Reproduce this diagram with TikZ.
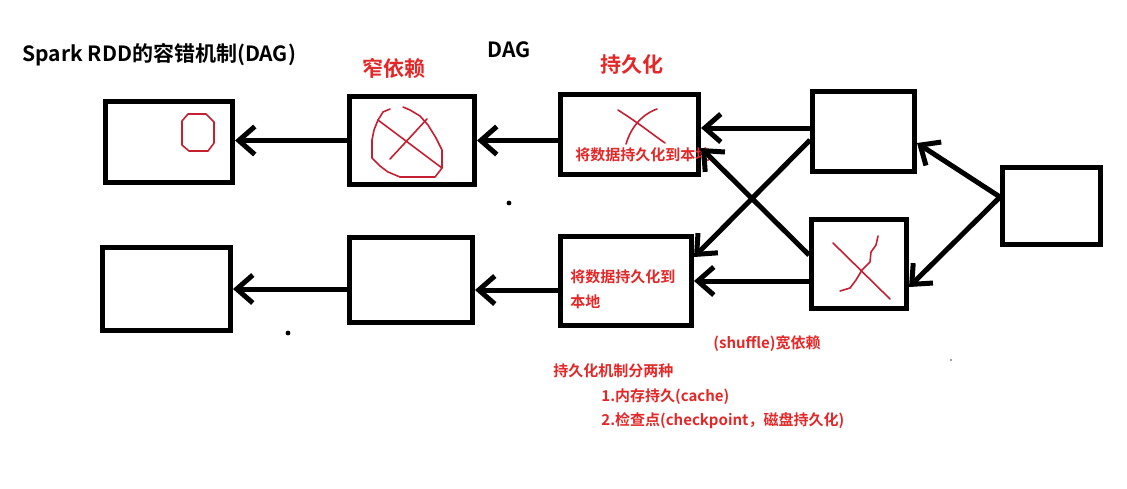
\documentclass[tikz,border=0pt]{standalone}
\usepackage{fontspec}
\newfontfamily\cjk{Noto Sans CJK SC}[BoldFont={Noto Sans CJK SC Bold}]
\usepackage{xcolor}
\usetikzlibrary{arrows.meta, positioning}
\definecolor{inkred}{RGB}{226,40,40}
\definecolor{penred}{RGB}{196,32,50}

\begin{document}
\begin{tikzpicture}[
  x=0.5pt, y=-0.5pt,
  box/.style={draw, line width=2.5pt, inner sep=0pt},
  arrow/.style={line width=2.5pt, -{Straight Barb[length=8pt, width=14pt]}},
  title/.style={font=\cjk\bfseries\fontsize{10.5pt}{12pt}\selectfont, anchor=west, inner sep=0pt},
  big/.style={font=\cjk\bfseries\fontsize{10.5pt}{12pt}\selectfont, text=inkred, inner sep=0pt},
  note/.style={font=\cjk\bfseries\fontsize{7.5pt}{9pt}\selectfont, text=inkred, anchor=west, inner sep=0pt},
  pen/.style={penred, line width=0.8pt, line join=round, line cap=round}
]
\useasboundingbox (0,0) rectangle (1127,488);

% Nodes
\node[box, minimum width=63.5pt, minimum height=40.5pt] (n1) at (169,142) {};
\node[box, minimum width=62.5pt, minimum height=44pt] (n2) at (412,140.5) {};
\node[box, minimum width=69pt, minimum height=40pt] (n3) at (629.5,134.5) {};
\node[box, minimum width=51pt, minimum height=40pt] (n4) at (863.5,131.5) {};
\node[box, minimum width=64pt, minimum height=41.5pt] (n5) at (166.5,289) {};
\node[box, minimum width=61.5pt, minimum height=42.5pt] (n6) at (411,280) {};
\node[box, minimum width=65.5pt, minimum height=44.5pt] (n7) at (626,281) {};
\node[box, minimum width=47.5pt, minimum height=44.5pt] (n8) at (859,264) {};
\node[box, minimum width=49pt, minimum height=38.5pt] (n9) at (1051.5,206) {};

% Labels
\node[title] (t1) at (22,55) {Spark RDD的容错机制(DAG)};
\node[title, anchor=center] (t2) at (509,50) {DAG};
\node[big] (t3) at (394,68) {窄依赖};
\node[big] (t4) at (632,64) {持久化};
\node[note] (t5) at (575,155) {将数据持久化到本地};
\node[note] (t6) at (570,277) {将数据持久化到};
\node[note] (t7) at (570,302) {本地};
\node[note] (t8) at (713,344) {(shuffle)宽依赖};
\node[note] (t9) at (553,371) {持久化机制分两种};
\node[note] (t10) at (601,397) {1.内存持久(cache)};
\node[note] (t11) at (601,421) {2.检查点(checkpoint，磁盘持久化)};

% Pointers
\draw[arrow] (n2.west) -- (n2.west -| n1.east);
\draw[arrow] (n2.east -| n3.west) -- (n2.east);
\draw[arrow] ([yshift=1.75pt]n4.west) -- ([yshift=1.75pt]n4.west -| n3.east);
\draw[arrow] ([yshift=-4.25pt]n4.west) -- ([yshift=12pt]n7.east);
\draw[arrow] ([yshift=4.5pt]n8.west) -- ([yshift=-6.75pt]n3.east);
\draw[arrow] (n7.east -| n8.west) -- (n7.east);
\draw[arrow] ([yshift=-4.5pt]n7.west) -- ([yshift=-4.5pt]n7.west -| n6.east);
\draw[arrow] (n6.west |- n5.east) -- (n5.east);
\draw[arrow] ([yshift=4.5pt]n9.west) -- ([yshift=-5.75pt]n4.east);
\draw[arrow] ([yshift=4.5pt]n9.west) -- ([yshift=-11.5pt]n8.east);

% Red marks
\draw[pen] (188,114) -- (206,114) -- (214,122) -- (214,143) -- (208,151) -- (189,151)
  -- (182,145) -- (182,121) -- cycle;
\draw[pen] (390,109) -- (383,112) -- (378,120) -- (374,130) -- (372,140) -- (372,158)
  -- (380,166) -- (388,172) -- (400,177) -- (435,177) -- (442,168) -- (442,150)
  -- (436,138) -- (428,125) -- (420,116) -- (410,110) -- (403,107);
\draw[pen] (378,120) -- (442,168);
\draw[pen] (390,159) -- (427,119);
\draw[pen] (618,110) .. controls (640,124) and (652,134) .. (665,143);
\draw[pen] (657,109) .. controls (640,115) and (630,130) .. (626,144);
\draw[pen] (833,243) -- (890,299);
\draw[pen] (878,236) -- (876,245) -- (871,252) -- (870,262) -- (862,270) -- (856,280)
  -- (850,288) -- (840,291);

% Dots
\fill (509,203) circle (1.2pt);
\fill (288,333) circle (1.2pt);
\fill[gray] (951,360) circle (0.6pt);
\end{tikzpicture}
\end{document}
